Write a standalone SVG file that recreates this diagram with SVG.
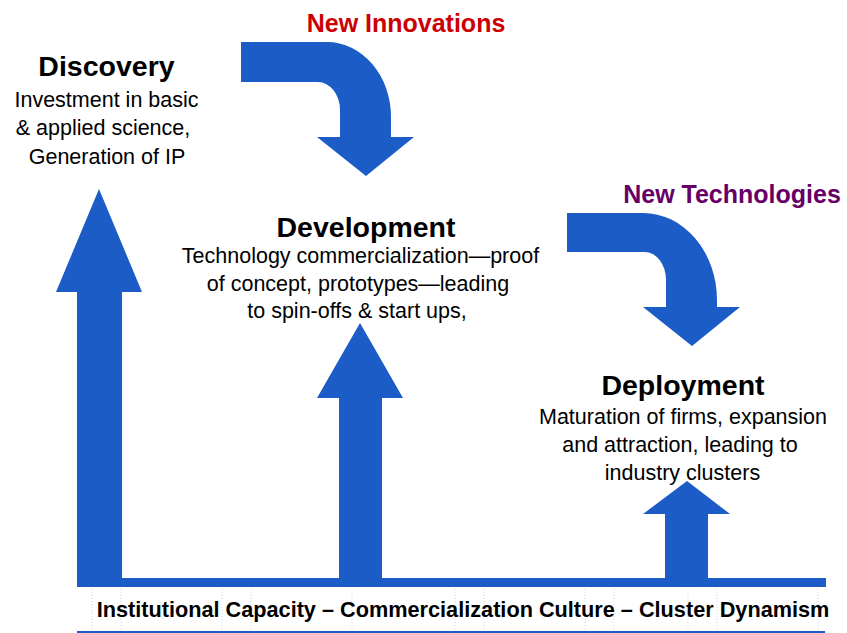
<svg xmlns="http://www.w3.org/2000/svg" width="847" height="633" viewBox="0 0 847 633">
  <style>
    .arrow { fill: #1b5cc7; }
    .title { font-family: "Liberation Sans", Arial, sans-serif; font-weight: bold; font-size: 28.5px; fill: #000; text-anchor: middle; }
    .body { font-family: "Liberation Sans", Arial, sans-serif; font-size: 21.5px; fill: #000; text-anchor: middle; }
    .flow { font-family: "Liberation Sans", Arial, sans-serif; font-weight: bold; font-size: 25px; text-anchor: middle; }
    .base { font-family: "Liberation Sans", Arial, sans-serif; font-weight: bold; font-size: 21.7px; fill: #000; text-anchor: middle; }
    .grid { stroke: #c9d5ea; stroke-width: 1; stroke-dasharray: 1 2; }
  </style>
  <rect width="847" height="633" fill="#fff"/>

  <!-- foundation bar and faint table grid beneath it -->
  <g id="foundation">
    <g class="grid">
      <line x1="92" y1="589" x2="92" y2="630"/>
      <line x1="121" y1="589" x2="121" y2="630"/>
      <line x1="222" y1="589" x2="222" y2="630"/>
      <line x1="251" y1="589" x2="251" y2="630"/>
      <line x1="352" y1="589" x2="352" y2="630"/>
      <line x1="455" y1="589" x2="455" y2="630"/>
      <line x1="484" y1="589" x2="484" y2="630"/>
      <line x1="585" y1="589" x2="585" y2="630"/>
      <line x1="614" y1="589" x2="614" y2="630"/>
      <line x1="688" y1="589" x2="688" y2="630"/>
      <line x1="717" y1="589" x2="717" y2="630"/>
      <line x1="818" y1="589" x2="818" y2="630"/>
    </g>
    <rect class="arrow" x="77" y="578" width="749" height="9"/>
    <rect class="arrow" x="77" y="631" width="748" height="2"/>
    <text class="base" x="463" y="617">Institutional Capacity – Commercialization Culture – Cluster Dynamism</text>
  </g>

  <!-- arrows: upward supports and curved hand-offs between stages -->
  <g id="connectors">
    <path class="arrow" d="M99,189 L142,292 L122,292 L122,587 L77,587 L77,292 L56,292 Z"/>
    <path class="arrow" d="M360,323 L403,398 L382,398 L382,587 L339,587 L339,398 L317,398 Z"/>
    <path class="arrow" d="M687,481 L730,514 L708,514 L708,587 L665,587 L665,514 L643,514 Z"/>
    <g id="new-innovations">
      <path class="arrow" d="M241,42 H327 A64,75 0 0 1 391,117 V137 H414 L366,176 L317,137 H340 V110 A22,28 0 0 0 318,82 H241 Z"/>
      <text class="flow" x="406" y="32" fill="#cc0000">New Innovations</text>
    </g>
    <g id="new-technologies">
      <path class="arrow" d="M567,213 H643 A74,87 0 0 1 717,300 V307 H740 L692,346 L643,307 H666 V280 A21,28 0 0 0 645,252 H567 Z"/>
      <text class="flow" x="732" y="203" fill="#660066">New Technologies</text>
    </g>
  </g>

  <g id="discovery">
    <text class="title" x="106.5" y="76">Discovery</text>
    <text class="body" x="106.5" y="107">Investment in basic</text>
    <text class="body" x="103" y="135">&amp; applied science,</text>
    <text class="body" x="107" y="164">Generation of IP</text>
  </g>

  <g id="development">
    <text class="title" x="366" y="237">Development</text>
    <text class="body" x="360.5" y="263">Technology commercialization—proof</text>
    <text class="body" x="358" y="291">of concept, prototypes—leading</text>
    <text class="body" x="357" y="318">to spin-offs &amp; start ups,</text>
  </g>

  <g id="deployment">
    <text class="title" x="683" y="395">Deployment</text>
    <text class="body" x="683" y="424">Maturation of firms, expansion</text>
    <text class="body" x="680" y="452">and attraction, leading to</text>
    <text class="body" x="682.5" y="480">industry clusters</text>
  </g>
</svg>
